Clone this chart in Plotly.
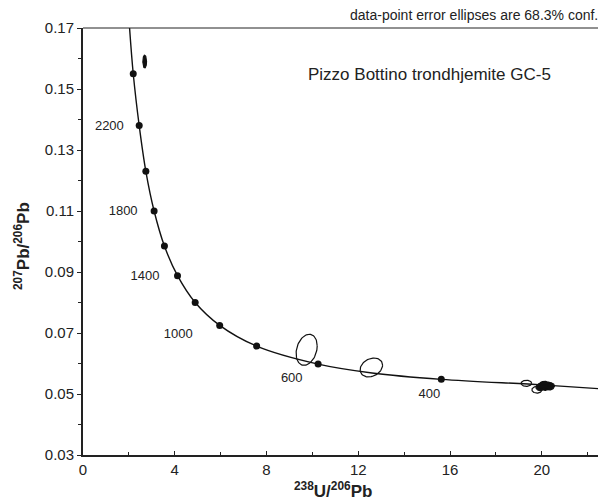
import numpy as np
import plotly.graph_objects as go

# Concordia curve points (238U/206Pb, 207Pb/206Pb)
curve_x = [2.03, 2.19, 2.45, 2.74, 3.10, 3.55, 4.12, 4.89, 5.96, 7.57, 10.25, 12.6, 15.62, 20.0, 22.8]
curve_y = [0.170, 0.1550, 0.1380, 0.1230, 0.1100, 0.0985, 0.0888, 0.0800, 0.0725, 0.0657, 0.0598, 0.0569, 0.0548, 0.0530, 0.0516]

# Age marker dots on the concordia (every 200 Ma, 2400 -> 400 Ma)
dot_x = [2.19, 2.45, 2.74, 3.10, 3.55, 4.12, 4.89, 5.96, 7.57, 10.25, 15.62]
dot_y = [0.1550, 0.1380, 0.1230, 0.1100, 0.0985, 0.0888, 0.0800, 0.0725, 0.0657, 0.0598, 0.0548]

# Age labels
age_labels = ["2200", "1800", "1400", "1000", "600", "400"]
age_x = [1.15, 1.75, 2.7, 4.15, 9.1, 15.1]
age_y = [0.1375, 0.1098, 0.0885, 0.0695, 0.0551, 0.0496]

# Data-point error ellipses: centre, half-widths, correlation, filled?
ell_cx = [2.69, 9.75, 12.57, 19.33, 19.79, 19.95, 20.05, 20.15, 20.25, 20.35, 20.10]
ell_cy = [0.1590, 0.0645, 0.0587, 0.0535, 0.0514, 0.0523, 0.0528, 0.0524, 0.0527, 0.0525, 0.0530]
ell_sx = [0.08, 0.46, 0.49, 0.23, 0.22, 0.20, 0.20, 0.20, 0.20, 0.20, 0.20]
ell_sy = [0.0021, 0.0051, 0.0031, 0.0010, 0.0011, 0.0012, 0.0012, 0.0012, 0.0012, 0.0012, 0.0012]
ell_rho = [0.0, 0.25, 0.25, 0.0, 0.0, 0.1, 0.1, 0.1, 0.1, 0.1, 0.1]
ell_fill = [True, False, False, False, False, True, True, True, True, True, True]

x_ticks = [0, 4, 8, 12, 16, 20]
y_ticks = [0.03, 0.05, 0.07, 0.09, 0.11, 0.13, 0.15, 0.17]

FONT = "Liberation Sans, Arial, sans-serif"

fig = go.Figure()

t = np.linspace(0, 2 * np.pi, 80)
for cx, cy, sx, sy, rho, filled in zip(ell_cx, ell_cy, ell_sx, ell_sy, ell_rho, ell_fill):
    ex = cx + sx * np.cos(t)
    ey = cy + sy * (rho * np.cos(t) + np.sqrt(1 - rho ** 2) * np.sin(t))
    fig.add_trace(go.Scatter(
        x=ex, y=ey, mode="lines",
        line=dict(color="#111", width=1.2),
        fill="toself" if filled else None,
        fillcolor="#111" if filled else None,
        hoverinfo="skip", showlegend=False,
    ))

fig.add_trace(go.Scatter(
    x=curve_x, y=curve_y, mode="lines",
    line=dict(color="#111", width=1.4, shape="spline", smoothing=1.0),
    hoverinfo="skip", showlegend=False,
))
fig.add_trace(go.Scatter(
    x=dot_x, y=dot_y, mode="markers",
    marker=dict(color="#111", size=7),
    showlegend=False,
))
fig.add_trace(go.Scatter(
    x=age_x, y=age_y, mode="text", text=age_labels,
    textfont=dict(family=FONT, size=13, color="#222"),
    showlegend=False,
))

fig.add_annotation(
    text="data-point error ellipses are 68.3% conf.",
    xref="paper", yref="paper", x=0.9885, y=1.0, yshift=3,
    xanchor="right", yanchor="bottom", showarrow=False,
    font=dict(family=FONT, size=14, color="#222"),
)
fig.add_annotation(
    text="Pizzo Bottino trondhjemite GC-5",
    xref="x", yref="y", x=15.1, y=0.1546,
    xanchor="center", yanchor="middle", showarrow=False,
    font=dict(family=FONT, size=17, color="#222"),
)
# axis titles
fig.add_annotation(
    text="<b><sup>238</sup>U/<sup>206</sup>Pb</b>",
    xref="paper", yref="paper", x=(333 - 83) / 523, y=-0.083,
    xanchor="center", yanchor="middle", showarrow=False,
    font=dict(family=FONT, size=17, color="#222"),
)
fig.add_annotation(
    text="<b><sup>207</sup>Pb/<sup>206</sup>Pb</b>",
    xref="paper", yref="paper", x=-0.118, y=0.49, textangle=-90,
    xanchor="center", yanchor="middle", showarrow=False,
    font=dict(family=FONT, size=17, color="#222"),
)

# thin top frame line
fig.add_shape(type="line", xref="paper", yref="paper", x0=0, x1=1, y0=1, y1=1,
              line=dict(color="#222", width=1))

# the page body has an 8px margin, so the figure is sized/placed to compensate
fig.update_layout(
    width=598, height=496,
    margin=dict(l=75, r=0, t=20, b=49, autoexpand=False),
    plot_bgcolor="white", paper_bgcolor="white",
    font=dict(family=FONT, color="#222"),
    xaxis=dict(
        range=[0, 22.8], tickvals=x_ticks, ticktext=[str(v) for v in x_ticks],
        showgrid=False, zeroline=False, showline=True, linecolor="#222", linewidth=2,
        ticks="inside", ticklen=4, tickcolor="#222", automargin=False,
        minor=dict(dtick=2, tick0=0, ticks="inside", ticklen=3, tickcolor="#222"),
        tickfont=dict(family=FONT, size=15, color="#222"),
    ),
    yaxis=dict(
        range=[0.03, 0.17], tickvals=y_ticks, ticktext=["%.2f" % v for v in y_ticks],
        showgrid=False, zeroline=False, showline=True, linecolor="#222", linewidth=2,
        ticks="outside", ticklen=4, tickcolor="#222", automargin=False,
        minor=dict(dtick=0.01, tick0=0.03, ticks="outside", ticklen=3, tickcolor="#222"),
        tickfont=dict(family=FONT, size=15, color="#222"),
    ),
)

fig.write_html("out.html")
